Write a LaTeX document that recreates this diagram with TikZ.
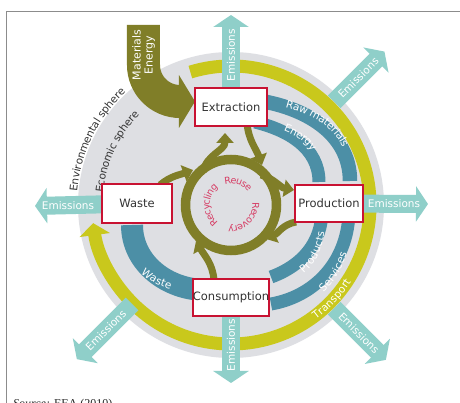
\documentclass[tikz,border=0pt]{standalone}
\usepackage{fontspec}
\setmainfont{DejaVu Sans}
\newfontfamily\srcserif{Liberation Serif}
\usetikzlibrary{arrows.meta,decorations.text,calc}
\definecolor{graydisc}{RGB}{222,223,227}
\definecolor{ringyellow}{RGB}{201,200,28}
\definecolor{olivec}{RGB}{128,126,40}
\definecolor{bandblue}{RGB}{76,143,166}
\definecolor{emis}{RGB}{143,207,201}
\definecolor{boxred}{RGB}{200,18,50}
\definecolor{txtred}{RGB}{214,60,100}
\definecolor{darktxt}{RGB}{51,51,51}
\definecolor{framegray}{RGB}{140,140,140}
\newcommand\lblband{\fontsize{10.5}{10.5}\selectfont\color{white}}
\newcommand\lblsphere{\fontsize{10.5}{10.5}\selectfont\color{darktxt}}
\newcommand\lblcenter{\fontsize{9.5}{9.5}\selectfont\color{txtred}}
\tikzset{
  boxnode/.style={draw=boxred, line width=2.4pt, fill=white, text=darktxt,
    font=\fontsize{11.5}{12}\selectfont, inner sep=0pt},
  emisarrow/.style={draw=emis, line width=18pt, -{Triangle[width=35pt,length=12pt]}},
  emistext/.style={text=white, font=\fontsize{10.5}{11}\selectfont, inner sep=0pt},
  blueband/.style={draw=bandblue, -{Triangle[width=#1]}},
  olivebranch/.style={draw=olivec, line width=7pt, -{Triangle[width=17pt,length=10pt]}},
  alongtext/.style={decorate, decoration={text along path, text align=center, raise=-3.6pt, text={#1}}}
}
\begin{document}
\begin{tikzpicture}[x=1pt,y=1pt]
\useasboundingbox (-231,-198) rectangle (229,205);
\fill[white] (-231,-198) rectangle (229,205);
% frame
\draw[framegray, line width=0.8pt] (229,194) -- (-225,194) -- (-225,-198);
\node[anchor=base west, font=\srcserif\fontsize{12}{12}\selectfont, text=black!85, inner sep=0pt] (src) at (-218,-203) {\textit{Source:} EEA (2010).};
% centre and disc
\coordinate (c) at (0,0);
\fill[graydisc] (c) circle[radius=153];
% yellow transport ring
\draw[ringyellow, line width=13pt, -{Triangle[width=30pt,length=12pt]}] (107:139) arc[start angle=107, end angle=-172.5, radius=139];
\path[alongtext={|\lblband|Transport}] (-64:139) arc[start angle=-64, end angle=-22, radius=139];
% boxes positions (drawn later)
\coordinate (pext) at (0,98);
\coordinate (pprod) at (98,1.5);
\coordinate (pcons) at (0,-92.5);
\coordinate (pwaste) at (-94,1.5);
% emissions
\coordinate (emT) at (0,190);
\coordinate (emR) at (197,1);
\coordinate (emB) at (0,-178);
\coordinate (emL) at (-196,-1);
\coordinate (emURs) at (45:146);
\coordinate (emURe) at (45:217);
\coordinate (emLRs) at (-45:146);
\coordinate (emLRe) at (-45:219);
\coordinate (emLLs) at (225:140);
\coordinate (emLLe) at (225:218);
\draw[emisarrow] (pext) -- (emT);
\draw[emisarrow] (pprod) -- (emR);
\draw[emisarrow] (pcons) -- (emB);
\draw[emisarrow] (pwaste) -- (emL);
\draw[emisarrow] (emURs) -- (emURe);
\draw[emisarrow] (emLRs) -- (emLRe);
\draw[emisarrow] (emLLs) -- (emLLe);
\node[emistext, rotate=90] (etT) at (0,150) {Emissions};
\node[emistext, rotate=90] (etB) at (0,-140) {Emissions};
\node[emistext] (etR) at (163,1) {Emissions};
\node[emistext] (etL) at (-163,-1) {Emissions};
\node[emistext, rotate=45] (etUR) at (45:180) {Emissions};
\node[emistext, rotate=-45] (etLR) at (-45:181) {Emissions};
\node[emistext, rotate=45] (etLL) at (225:177) {Emissions};
% blue flows
\coordinate (rmS) at (24,105);  \coordinate (rmE) at (119,24);
\coordinate (enS) at (24,83);   \coordinate (enE) at (88,23);
\coordinate (prS) at (91,-5);   \coordinate (prE) at (40,-72);
\coordinate (seS) at (118,-5);  \coordinate (seE) at (40,-99);
\coordinate (waS) at (-25,-85); \coordinate (waE) at (-99,-20);
\draw[bandblue={26pt,length=17pt}, line width=14.5pt] (rmS) to[out=-8,in=90] (rmE);
\draw[bandblue={25pt,length=17pt}, line width=13pt] (enS) to[out=-14,in=90] (enE);
\draw[bandblue={25pt,length=16pt}, line width=13pt] (prS) to[out=-90,in=20] (prE);
\draw[bandblue={25pt,length=16pt}, line width=13pt] (seS) to[out=-90,in=10] (seE);
\draw[bandblue={44pt,length=18pt}, line width=22pt] (waS) to[out=180,in=-90] (waE);
\path[alongtext={|\lblband|Raw materials}] (34,105) to[out=-8,in=90] (119,38);
\path[alongtext={|\lblband|Energy}] (36,83) to[out=-14,in=90] (88,38);
\path[alongtext={|\lblband|Products}] (56,-74) to[out=20,in=-90] (91,-10);
\path[alongtext={|\lblband|Services}] (56,-101) to[out=10,in=-90] (118,-10);
\path[alongtext={|\lblband|Waste}] (-99,-38) to[out=-90,in=180] (-30,-85);
% spheres
\path[alongtext={|\lblsphere|Environmental sphere}] (192:158) arc[start angle=192, end angle=116, radius=158];
\path[alongtext={|\lblsphere|Economic sphere}] (192:132) arc[start angle=192, end angle=118, radius=132];
% materials / energy input
\coordinate (meS) at (-87.5,180);
\coordinate (meE) at (-36,103.5);
\draw[olivec, line width=33pt, -{Triangle[width=52pt,length=16pt]}] (meS) -- (-87.5,140) arc[start angle=180, end angle=270, radius=36.5] -- (meE);
\node[text=white, rotate=90, align=center, font=\fontsize{11}{12}\selectfont, inner sep=0pt] (metxt) at (-87.5,150) {Materials\\Energy};
% central loop
\draw[olivec, line width=9.5pt] (c) circle[radius=45.5];
\draw[olivebranch] (-28,33) to[out=80,in=-90] (-6,72);
\draw[olivebranch] (16,82) to[out=-85,in=110] (31,40);
\draw[olivebranch] (30,30) to[out=-15,in=170] (63,15);
\draw[olivebranch] (65,-17) to[out=190,in=25] (35,-34);
\draw[olivebranch] (-17,-75) to[out=95,in=-60] (-35,-36);
\draw[olivebranch] (-71,20) to[out=40,in=200] (-38,35);
\path[alongtext={|\lblcenter|Reuse}] (124:25) arc[start angle=124, end angle=20, radius=25];
\path[alongtext={|\lblcenter|Recovery}] (22:25) arc[start angle=22, end angle=-112, radius=25];
\path[alongtext={|\lblcenter|Recycling}] (240:25) arc[start angle=240, end angle=120, radius=25];
% boxes
\node[boxnode, minimum width=72.5pt, minimum height=37.5pt] (ext) at (pext) {Extraction};
\node[boxnode, minimum width=67.5pt, minimum height=36.5pt] (prod) at (pprod) {Production};
\node[boxnode, minimum width=76.5pt, minimum height=36.5pt] (cons) at (pcons) {Consumption};
\node[boxnode, minimum width=69.5pt, minimum height=38.5pt] (waste) at (pwaste) {Waste};
\end{tikzpicture}
\end{document}
